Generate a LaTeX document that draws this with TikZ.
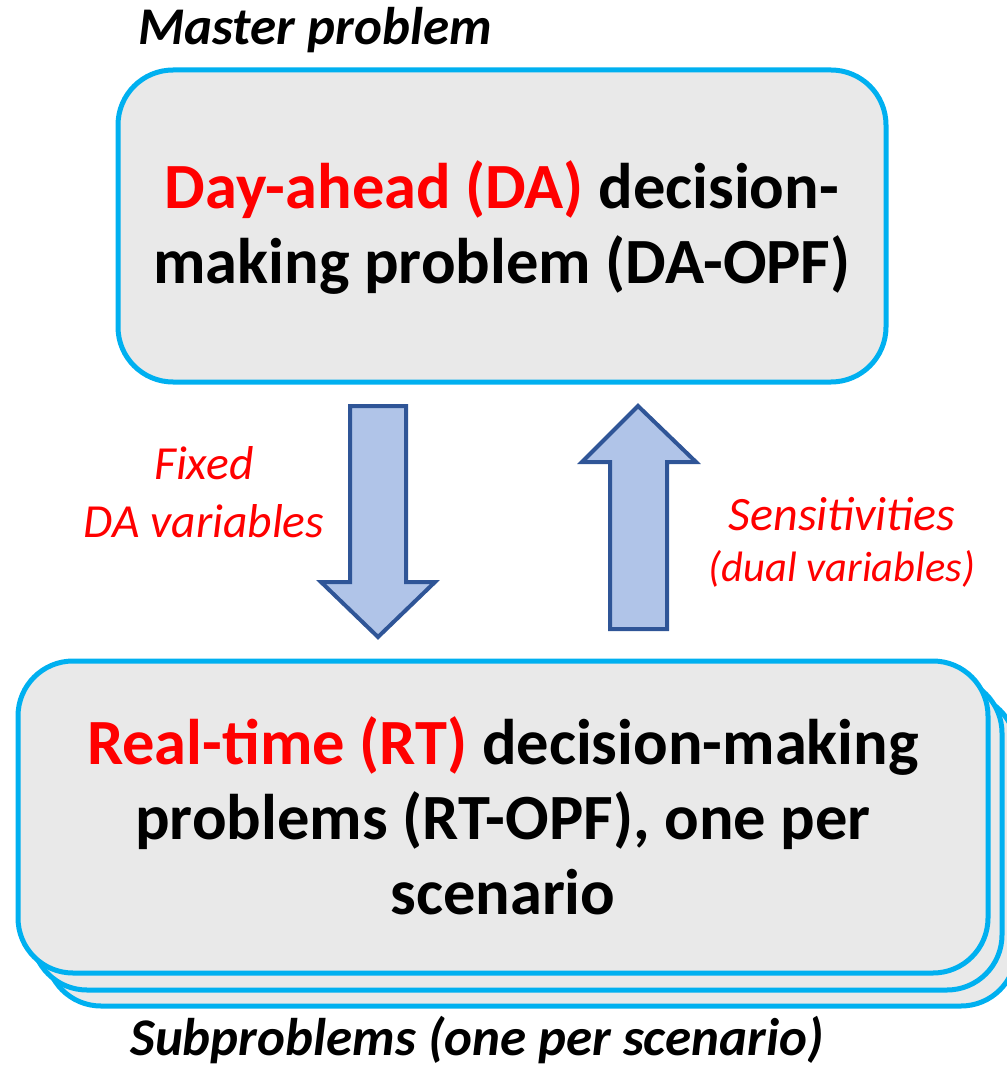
\documentclass[tikz,border=0pt]{standalone}
\usepackage{fontspec}
\setmainfont{Carlito}
\definecolor{boxline}{HTML}{00B0F0}
\definecolor{boxfill}{HTML}{E9E9E9}
\definecolor{arrline}{HTML}{2F5597}
\definecolor{arrfill}{HTML}{B0C4E8}
\definecolor{myred}{HTML}{FF0000}
\tikzset{
  probbox/.style={draw=boxline, fill=boxfill, line width=5pt, rounded corners=55pt},
  blockarrow/.style={draw=arrline, fill=arrfill, line width=4pt, line join=miter},
  maintext/.style={align=center, font=\fontsize{64.5}{75}\selectfont\bfseries, text=black, inner sep=0pt},
  caption/.style={font=\fontsize{53}{60}\selectfont\bfseries\itshape, text=black, inner sep=0pt, anchor=base},
  arrlabel/.style={align=center, text=myred, inner sep=0pt}
}
\begin{document}
\begin{tikzpicture}[x=1pt, y=-1pt]
\useasboundingbox (0,0) rectangle (1006,1067);
% master box
\draw[probbox] (118,70) rectangle (886,382);
\node[maintext] (da) at (502,228) {\textcolor{myred}{Day-ahead (DA)} decision-\\making problem (DA-OPF)};
% stacked sub boxes
\draw[probbox] (46,694) rectangle (1016,1006);
\draw[probbox] (32,678) rectangle (1002,990);
\draw[probbox] (18,661) rectangle (988,973);
\node[maintext] (rt) at (503,816) {\textcolor{myred}{Real-time (RT)} decision-making\\problems (RT-OPF), one per\\scenario};
% captions
\node[caption] (master) at (315,45) {Master problem};
\node[caption] (sub) at (477,1055) {Subproblems (one per scenario)};
% down arrow
\draw[blockarrow] (350,406) -- (406,406) -- (406,582) -- (435,582) -- (378,637) -- (321,582) -- (350,582) -- cycle;
% up arrow
\draw[blockarrow] (610,629) -- (667,629) -- (667,462) -- (696,462) -- (638,406) -- (582,462) -- (610,462) -- cycle;
% labels
\node[arrlabel, font=\fontsize{47.5}{58}\selectfont\itshape] (fixed) at (204,492) {Fixed\\DA variables};
\node[arrlabel, font=\fontsize{48}{54}\selectfont\itshape, anchor=base] (sens) at (842,530) {Sensitivities};
\node[arrlabel, font=\fontsize{42.5}{46}\selectfont\itshape, anchor=base] (dual) at (842,581) {(dual variables)};
\end{tikzpicture}
\end{document}
